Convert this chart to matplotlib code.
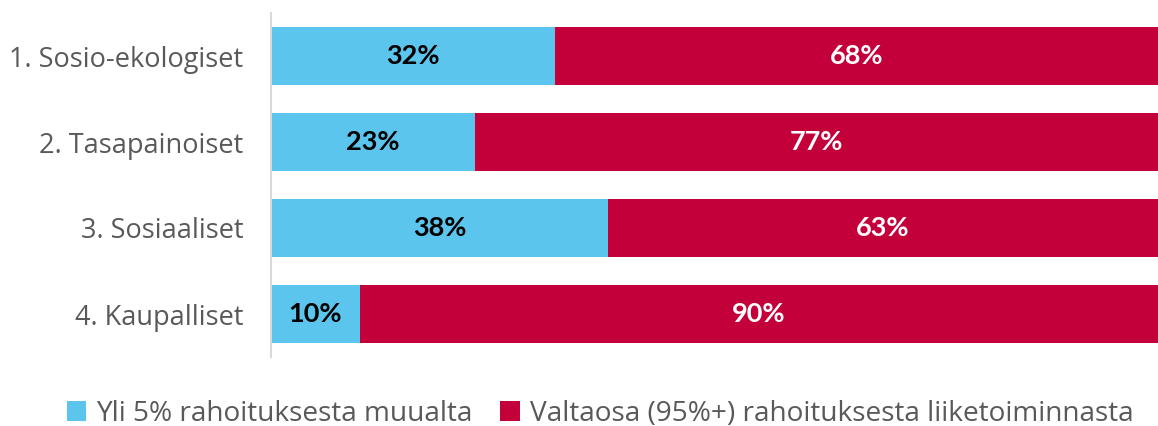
import matplotlib
matplotlib.use("Agg")
import matplotlib.pyplot as plt
from matplotlib.patches import Patch

categories = ["1. Sosio-ekologiset", "2. Tasapainoiset", "3. Sosiaaliset", "4. Kaupalliset"]
share_other = [32, 23, 38, 10]
share_business = [68, 77, 63, 90]
series_names = ["Yli 5% rahoituksesta muualta",
                "Valtaosa (95%+) rahoituksesta liiketoiminnasta"]

BLUE = "#5BC5ED"
RED = "#C4003A"
GREY = "#595959"

plt.rcParams['font.family'] = ['Open Sans', 'DejaVu Sans']

fig = plt.figure(figsize=(11.58, 4.26), dpi=100)
ax = fig.add_axes([271/1158, 1 - 357/426, 1 - 271/1158, 344/426])

y = list(range(len(categories)))
h = 0.686
ax.barh(y, share_other, height=h, color=BLUE, linewidth=0)
ax.barh(y, share_business, left=share_other, height=h, color=RED, linewidth=0)

for i in y:
    a = share_other[i]
    b = share_business[i]
    ax.text(a / 2, i, f"{a}%", ha="center", va="center", fontsize=19.5,
            fontweight="bold", color="black", family=['Lato', 'DejaVu Sans'])
    right = min(a + b, 100)
    ax.text((a + right) / 2, i, f"{b}%", ha="center", va="center", fontsize=19.5,
            fontweight="bold", color="white", family=['Lato', 'DejaVu Sans'])

ax.set_xlim(0, 100)
ax.set_ylim(3.5, -0.5)
ax.set_yticks(y)
ax.set_yticklabels(categories, fontsize=19.5, color=GREY)
ax.tick_params(axis="y", length=0, pad=20)
ax.set_xticks([])
for s in ["top", "right", "bottom"]:
    ax.spines[s].set_visible(False)
ax.spines["left"].set_color("#D9D9D9")
ax.spines["left"].set_linewidth(1.5)

handles = [Patch(facecolor=BLUE, edgecolor="none"), Patch(facecolor=RED, edgecolor="none")]
leg = fig.legend(handles, series_names, loc="center", bbox_to_anchor=(600/1158, 1 - 414/426),
                 ncol=2, frameon=False, fontsize=20.2, handlelength=0.7, handleheight=0.7,
                 handletextpad=0.35, columnspacing=1.0, borderpad=0)
for t in leg.get_texts():
    t.set_color(GREY)

fig.savefig("out.png", dpi=100)
